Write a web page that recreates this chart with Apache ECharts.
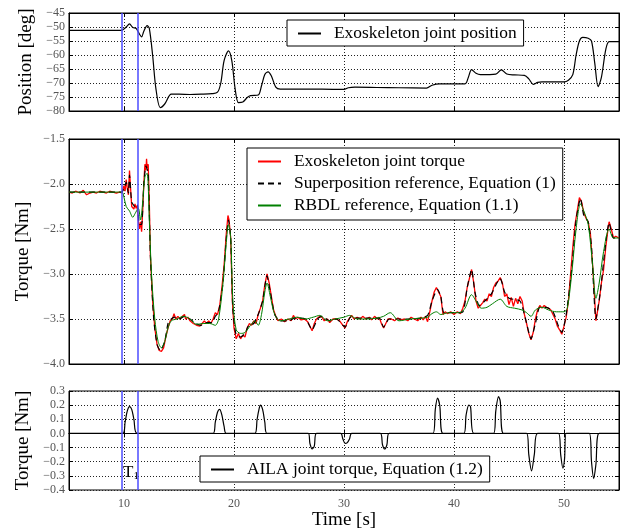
<!DOCTYPE html>
<html><head><meta charset="utf-8">
<script src="https://cdn.jsdelivr.net/npm/echarts@6/dist/echarts.min.js"></script>
<style>html,body{margin:0;padding:0;background:#fff}#c{width:622px;height:531px}</style>
</head><body><div id="c"></div>
<script>
// ---- data ----
const xTicks = [10, 20, 30, 40, 50];
const tBounds = [9.8, 11.25];

const posT = [5,9.7,9.9,10.2,10.5,10.8,11.1,11.4,11.6,11.8,12.1,12.3,12.6,12.9,13.3,13.7,14.3,15,16,17,18,18.5,18.8,19.1,19.5,19.8,20.1,20.4,20.8,21.2,21.5,22.2,22.5,22.8,23.1,23.4,23.8,24.2,26,28,30,30.4,31,33,35,37.5,38,38.7,41.0,41.3,41.6,42.0,42.4,43.8,44.3,44.8,45.5,46.4,46.8,47.2,47.6,48,50,50.4,50.8,51.1,51.4,51.7,52.2,52.5,52.8,53.1,53.4,53.8,54.1,55];
const posV = [-51.2,-51.2,-51.0,-50.0,-48.9,-50.2,-50.5,-52.5,-53.5,-51.5,-49.5,-50.5,-60,-72,-78.8,-77.5,-74,-74,-74.1,-74,-73.8,-73.3,-70,-62,-58.5,-62,-72,-77,-76.8,-75.2,-74.5,-74.3,-71,-67,-66,-67.5,-71.5,-72.2,-72.2,-72.2,-72.3,-71.7,-71.5,-71.6,-71.7,-71.8,-70.8,-70.3,-70.3,-68,-65.2,-66.5,-67,-66.8,-65.3,-66.8,-67.1,-67.3,-68.5,-70.5,-69.8,-69.6,-69.6,-69,-67,-60,-55,-53.7,-54.0,-55,-63,-71.3,-68,-58,-55.2,-55.2];

const exoT = [5.0,5.3,5.6,6.0,6.3,6.6,6.9,7.2,7.5,7.8,8.1,8.4,8.7,9.0,9.3,9.6,9.8,10.0,10.1,10.2,10.3,10.4,10.5,10.6,10.7,10.9,11.0,11.1,11.2,11.3,11.4,11.5,11.6,11.7,11.8,11.9,12.0,12.05,12.1,12.2,12.3,12.4,12.6,12.8,13.0,13.2,13.4,13.6,13.8,14.0,14.2,14.4,14.55,14.7,14.9,15.1,15.3,15.5,15.6,15.8,16.0,16.3,16.6,16.9,17.1,17.3,17.5,17.7,17.9,18.1,18.3,18.5,18.7,18.9,19.1,19.3,19.45,19.55,19.7,19.85,20.0,20.2,20.4,20.6,20.8,21.0,21.2,21.4,21.6,21.8,22.0,22.2,22.4,22.6,22.8,23.0,23.2,23.4,23.6,23.8,24.0,24.3,24.6,24.9,25.2,25.4,25.6,25.8,26.1,26.4,26.7,26.9,27.1,27.3,27.5,27.8,28.0,28.2,28.5,28.7,29.0,29.3,29.6,29.9,30.1,30.3,30.5,30.7,30.9,31.2,31.5,31.7,32.0,32.3,32.5,32.8,33.0,33.2,33.4,33.6,33.8,34.0,34.3,34.6,34.9,35.2,35.5,35.8,36.1,36.4,36.7,37.0,37.2,37.4,37.6,37.8,38.0,38.2,38.4,38.6,38.8,39.0,39.2,39.4,39.7,40.0,40.3,40.6,40.8,41.0,41.2,41.4,41.6,41.8,42.0,42.2,42.4,42.6,42.8,43.0,43.2,43.4,43.6,43.8,44.0,44.2,44.4,44.6,44.8,45.0,45.2,45.4,45.6,45.8,46.0,46.2,46.4,46.6,46.8,47.0,47.2,47.4,47.6,47.8,48.0,48.2,48.4,48.6,48.8,49.0,49.2,49.4,49.6,49.8,50.0,50.2,50.4,50.6,50.8,51.0,51.2,51.4,51.5,51.6,51.8,52.0,52.2,52.4,52.6,52.8,52.9,53.0,53.2,53.4,53.6,53.8,54.0,54.1,54.3,54.5,54.7,55.0];
const exoV = [-2.09,-2.1,-2.08,-2.1,-2.07,-2.12,-2.1,-2.09,-2.1,-2.08,-2.09,-2.1,-2.08,-2.09,-2.1,-2.09,-2.1,-2.02,-2.08,-1.95,-2.05,-2.12,-1.85,-2.05,-2.25,-2.28,-2.22,-2.27,-2.24,-2.4,-2.5,-2.42,-2.53,-2.3,-2.0,-1.78,-1.85,-1.72,-1.82,-1.78,-2.2,-2.8,-3.3,-3.6,-3.78,-3.85,-3.86,-3.82,-3.7,-3.6,-3.52,-3.5,-3.44,-3.5,-3.47,-3.5,-3.47,-3.45,-3.5,-3.48,-3.52,-3.55,-3.57,-3.58,-3.55,-3.52,-3.55,-3.52,-3.55,-3.5,-3.43,-3.45,-3.35,-3.15,-2.9,-2.55,-2.35,-2.4,-2.6,-3.3,-3.6,-3.72,-3.66,-3.72,-3.68,-3.7,-3.6,-3.55,-3.57,-3.52,-3.55,-3.45,-3.38,-3.3,-3.12,-3.0,-3.1,-3.25,-3.4,-3.47,-3.52,-3.5,-3.53,-3.5,-3.52,-3.46,-3.5,-3.48,-3.51,-3.5,-3.53,-3.58,-3.63,-3.55,-3.5,-3.47,-3.48,-3.52,-3.5,-3.54,-3.5,-3.5,-3.52,-3.57,-3.6,-3.53,-3.49,-3.46,-3.5,-3.48,-3.5,-3.47,-3.5,-3.48,-3.51,-3.47,-3.5,-3.48,-3.55,-3.6,-3.55,-3.5,-3.5,-3.52,-3.49,-3.51,-3.5,-3.52,-3.48,-3.5,-3.52,-3.48,-3.51,-3.47,-3.53,-3.42,-3.3,-3.2,-3.15,-3.2,-3.25,-3.45,-3.42,-3.44,-3.42,-3.45,-3.42,-3.44,-3.38,-3.3,-3.15,-3.05,-2.95,-3.1,-3.3,-3.38,-3.35,-3.32,-3.28,-3.3,-3.22,-3.25,-3.15,-3.1,-3.08,-3.04,-3.1,-3.25,-3.22,-3.34,-3.26,-3.36,-3.27,-3.33,-3.25,-3.3,-3.45,-3.55,-3.66,-3.73,-3.65,-3.5,-3.4,-3.35,-3.38,-3.35,-3.37,-3.38,-3.4,-3.45,-3.5,-3.58,-3.62,-3.67,-3.58,-3.48,-3.3,-3.0,-2.7,-2.45,-2.3,-2.15,-2.14,-2.2,-2.32,-2.38,-2.42,-2.55,-2.9,-3.3,-3.52,-3.45,-3.3,-3.1,-2.95,-2.7,-2.5,-2.42,-2.5,-2.6,-2.58,-2.6];

const supT = [5,9.8,10.0,10.2,10.4,10.5,10.7,11.0,11.2,11.4,11.6,11.8,12.0,12.2,12.4,12.7,13.0,13.3,13.7,14.0,14.3,14.6,15.0,15.5,16.0,16.5,17.0,17.5,18.0,18.3,18.6,19.0,19.3,19.5,19.7,19.9,20.2,20.6,21.0,21.3,21.8,22.2,22.6,23.0,23.3,23.7,24.2,25,25.5,26.5,27.1,27.6,28.0,28.7,29.3,30.1,30.6,31,32,33.2,33.6,34.1,35,36,37,37.6,38.0,38.5,38.8,39.1,40.0,40.8,41.2,41.6,41.9,42.3,42.8,43.4,43.9,44.2,44.6,45.0,46.0,46.5,47.0,47.4,47.8,48.4,49.0,49.5,49.8,50.2,50.7,51.1,51.5,51.8,52.2,52.5,52.9,53.3,53.7,54.1,54.5,55];
const supV = [-2.09,-2.09,-2.05,-1.98,-2.1,-1.9,-2.2,-2.25,-2.22,-2.45,-2.45,-2.0,-1.8,-1.88,-2.8,-3.5,-3.78,-3.85,-3.75,-3.55,-3.5,-3.48,-3.5,-3.47,-3.5,-3.55,-3.57,-3.54,-3.54,-3.47,-3.42,-3.1,-2.6,-2.4,-2.6,-3.4,-3.68,-3.7,-3.66,-3.58,-3.55,-3.45,-3.3,-3.02,-3.2,-3.45,-3.52,-3.52,-3.49,-3.5,-3.62,-3.5,-3.47,-3.52,-3.5,-3.59,-3.48,-3.49,-3.49,-3.49,-3.59,-3.5,-3.5,-3.5,-3.49,-3.46,-3.3,-3.17,-3.25,-3.43,-3.43,-3.42,-3.15,-2.95,-3.2,-3.35,-3.3,-3.22,-3.1,-3.05,-3.2,-3.27,-3.3,-3.5,-3.72,-3.55,-3.37,-3.37,-3.42,-3.58,-3.65,-3.45,-2.95,-2.4,-2.16,-2.35,-2.42,-2.7,-3.5,-3.2,-2.75,-2.43,-2.6,-2.6];

const rbdlT = [5,9.8,10.0,10.2,10.5,10.8,11.0,11.3,11.5,11.7,11.9,12.1,12.3,12.5,12.8,13.1,13.4,13.7,14.0,14.3,14.8,15.4,16.0,16.6,17.2,17.8,18.3,18.6,19.0,19.3,19.5,19.7,19.9,20.2,20.6,21.0,21.5,21.9,22.2,22.5,22.8,23.0,23.3,23.7,24.2,25,25.7,26.5,27.2,27.8,28.5,29.2,30.0,30.5,31.2,32,33,33.6,34.2,35,36,37,37.6,38.0,38.4,38.8,39.5,40.5,41.0,41.6,42.0,42.5,43.0,43.5,44.2,44.8,45.5,46.2,46.6,47.0,47.4,48.0,48.6,49.3,50.0,50.3,50.7,51.1,51.5,51.8,52.2,52.6,52.9,53.2,53.6,54.1,54.5,55];
const rbdlV = [-2.09,-2.09,-2.15,-2.25,-2.3,-2.37,-2.33,-2.27,-2.4,-2.2,-1.92,-1.88,-2.4,-3.0,-3.5,-3.75,-3.82,-3.75,-3.6,-3.52,-3.5,-3.47,-3.5,-3.56,-3.55,-3.55,-3.57,-3.5,-3.1,-2.65,-2.45,-2.6,-3.3,-3.62,-3.66,-3.65,-3.57,-3.52,-3.57,-3.45,-3.2,-3.1,-3.25,-3.45,-3.52,-3.5,-3.48,-3.5,-3.48,-3.46,-3.52,-3.5,-3.48,-3.46,-3.5,-3.5,-3.49,-3.47,-3.43,-3.52,-3.5,-3.49,-3.48,-3.44,-3.42,-3.45,-3.43,-3.43,-3.38,-3.23,-3.3,-3.38,-3.37,-3.33,-3.28,-3.36,-3.38,-3.4,-3.43,-3.47,-3.4,-3.37,-3.4,-3.42,-3.42,-3.38,-3.0,-2.5,-2.22,-2.3,-2.45,-2.9,-3.27,-3.1,-2.75,-2.5,-2.6,-2.6];

const ailaT = [5,9.9,10.1,10.3,10.5,10.7,10.9,11.2,18.1,18.3,18.5,18.7,18.9,19.1,19.3,21.9,22.1,22.3,22.4,22.6,22.8,23.0,26.75,26.9,27.1,27.3,27.5,29.7,29.9,30.1,30.3,30.5,30.7,33.3,33.5,33.7,33.9,34.1,38.1,38.3,38.5,38.7,39.0,40.9,41.1,41.35,41.5,41.8,43.6,43.8,44.05,44.2,44.5,46.6,46.8,47.05,47.3,47.6,49.5,49.7,49.9,50.05,50.2,52.3,52.5,52.7,52.9,53.2,55];
const ailaV = [0,0,0.08,0.16,0.19,0.17,0.1,0,0,0.08,0.15,0.17,0.13,0.05,0,0,0.1,0.18,0.2,0.17,0.08,0,0,-0.07,-0.11,-0.09,0,0,-0.04,-0.07,-0.065,-0.04,0,0,-0.08,-0.11,-0.08,0,0,0.17,0.25,0.2,0,0,0.13,0.2,0.19,0,0,0.16,0.26,0.23,0,0,-0.15,-0.265,-0.15,0,0,-0.15,-0.245,-0.18,0,0,-0.2,-0.32,-0.22,0,0];

// ---- helpers ----
const zip = (t, v) => t.map((x, i) => [x, v[i]]);
const FONT = 'Liberation Serif';
const minus = s => String(s).replace('-', '\u2212');
const GRID_L = 69, GRID_W = 550;
const grids = [
  {left: GRID_L, top: 13, width: GRID_W, height: 98},
  {left: GRID_L, top: 139, width: GRID_W, height: 225},
  {left: GRID_L, top: 391, width: GRID_W, height: 99}
];
const splitStyle = {show: true, lineStyle: {color: '#222', type: [1, 2], width: 1}};
function xAx(i, showLabel) {
  return {
    type: 'value', gridIndex: i, min: 5, max: 55, position: 'bottom',
    axisLine: {show: true, lineStyle: {color: '#000'}},
    axisTick: {show: true, inside: true, length: 4, lineStyle: {color: '#000'}},
    axisLabel: {show: showLabel, showMinLabel: false, showMaxLabel: false, color: '#555', fontFamily: FONT, fontSize: 12, margin: 8},
    splitLine: splitStyle,
    name: showLabel ? 'Time [s]' : '', nameLocation: 'middle', nameGap: 20,
    nameTextStyle: {fontFamily: FONT, fontSize: 19, color: '#000'}
  };
}
function xTop(i) {
  return {type: 'value', gridIndex: i, min: 5, max: 55, position: 'top',
    axisLine: {show: true, lineStyle: {color: '#000'}},
    axisTick: {show: true, inside: true, length: 4, lineStyle: {color: '#000'}},
    axisLabel: {show: false}, splitLine: {show: false}};
}
function yAx(i, min, max, interval, name, dec) {
  return {
    type: 'value', gridIndex: i, min: min, max: max, interval: interval, position: 'left',
    axisLine: {show: true, lineStyle: {color: '#000'}},
    axisTick: {show: true, inside: true, length: 4, lineStyle: {color: '#000'}},
    axisLabel: {color: '#555', fontFamily: FONT, fontSize: 12, margin: 4,
      formatter: v => minus((+v).toFixed(dec)).replace('\u22120.0', '0.0')},
    splitLine: splitStyle,
    name: name, nameLocation: 'middle', nameGap: 33, nameRotate: 90,
    nameTextStyle: {fontFamily: FONT, fontSize: 19, color: '#000'}
  };
}
function yRight(i, min, max, interval) {
  return {type: 'value', gridIndex: i, min: min, max: max, interval: interval, position: 'right',
    axisLine: {show: true, lineStyle: {color: '#000'}},
    axisTick: {show: true, inside: true, length: 4, lineStyle: {color: '#000'}},
    axisLabel: {show: false}, splitLine: {show: false}};
}
const boundLines = {
  silent: true, symbol: 'none', label: {show: false},
  lineStyle: {color: '#4d4dff', width: 1.5, type: 'solid'},
  data: tBounds.map(t => ({xAxis: t}))
};
const legendBase = {
  backgroundColor: '#fff', borderColor: '#000', borderWidth: 1, borderRadius: 0,
  itemWidth: 23, itemHeight: 14, selectedMode: false,
  itemStyle: {opacity: 0},
  textStyle: {fontFamily: FONT, fontSize: 17.4, color: '#000', padding: [0, 0, 0, 8]}
};

const option = {
  animation: false,
  backgroundColor: '#fff',
  grid: grids.map(g => Object.assign({show: true, borderColor: '#000', borderWidth: 1, backgroundColor: 'transparent'}, g)),
  xAxis: [xAx(0, false), xAx(1, false), xAx(2, true), xTop(0), xTop(1), xTop(2)],
  yAxis: [
    yAx(0, -80, -45, 5, 'Position [deg]', 0),
    yAx(1, -4, -1.5, 0.5, 'Torque [Nm]', 1),
    yAx(2, -0.4, 0.3, 0.1, 'Torque [Nm]', 1),
    yRight(0, -80, -45, 5), yRight(1, -4, -1.5, 0.5), yRight(2, -0.4, 0.3, 0.1)
  ],
  legend: [
    Object.assign({}, legendBase, {data: ['Exoskeleton joint position'], left: 287, top: 20, padding: [5, 7, 4, 10]}),
    Object.assign({}, legendBase, {data: ['Exoskeleton joint torque', 'Superposition reference, Equation (1)', 'RBDL reference, Equation (1.1)'],
      orient: 'vertical', left: 247, top: 148, itemGap: 5, padding: [5, 7, 6, 10]}),
    Object.assign({}, legendBase, {data: ['AILA joint torque, Equation (1.2)'], left: 200, top: 456, padding: [5, 7, 4, 10]})
  ],
  series: [
    {name: 'Exoskeleton joint position', type: 'line', xAxisIndex: 0, yAxisIndex: 0, data: zip(posT, posV),
      symbol: 'none', smooth: 0.3, lineStyle: {color: '#000', width: 1.2}, itemStyle: {color: '#000'}, markLine: boundLines},
    {name: 'Exoskeleton joint torque', type: 'line', xAxisIndex: 1, yAxisIndex: 1, data: zip(exoT, exoV),
      symbol: 'none', lineStyle: {color: '#ff0000', width: 1.3}, itemStyle: {color: '#ff0000'}, markLine: boundLines},
    {name: 'Superposition reference, Equation (1)', type: 'line', xAxisIndex: 1, yAxisIndex: 1, data: zip(supT, supV),
      symbol: 'none', smooth: 0.2, lineStyle: {color: '#000', width: 1.2, type: [6, 4]}, itemStyle: {color: '#000'}},
    {name: 'RBDL reference, Equation (1.1)', type: 'line', xAxisIndex: 1, yAxisIndex: 1, data: zip(rbdlT, rbdlV),
      symbol: 'none', smooth: 0.3, lineStyle: {color: '#008000', width: 1}, itemStyle: {color: '#008000'}},
    {name: 'AILA joint torque, Equation (1.2)', type: 'line', xAxisIndex: 2, yAxisIndex: 2, data: zip(ailaT, ailaV),
      symbol: 'none', smooth: 0.3, lineStyle: {color: '#000', width: 1.2}, itemStyle: {color: '#000'}, markLine: boundLines}
  ],
  graphic: [{
    type: 'text', left: 123, top: 464,
    style: {
      text: '{t|T}{s|1}',
      rich: {t: {fontFamily: FONT, fontSize: 17, fill: '#000'}, s: {fontFamily: FONT, fontSize: 11, fill: '#000', padding: [8, 0, 0, 0]}}
    }
  }]
};
const chart = echarts.init(document.getElementById('c'), null, {renderer: 'canvas'});
chart.setOption(option);
</script></body></html>
